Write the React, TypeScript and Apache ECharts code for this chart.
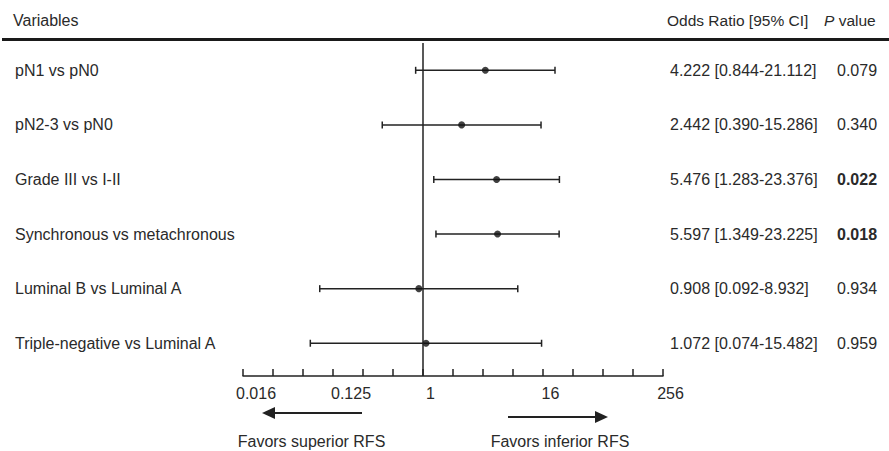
import React, { useEffect, useRef } from "react";
import * as echarts from "echarts";

const categories = [
  "pN1 vs pN0",
  "pN2-3 vs pN0",
  "Grade III vs I-II",
  "Synchronous vs metachronous",
  "Luminal B vs Luminal A",
  "Triple-negative vs Luminal A",
];
const oddsRatio = [4.222, 2.442, 5.476, 5.597, 0.908, 1.072];
const ciLow = [0.844, 0.39, 1.283, 1.349, 0.092, 0.074];
const ciHigh = [21.112, 15.286, 23.376, 23.225, 8.932, 15.482];
const pValues = ["0.079", "0.340", "0.022", "0.018", "0.934", "0.959"];

const xTickValues = [
  0.015625, 0.03125, 0.0625, 0.125, 0.25, 0.5, 1, 2, 4, 8, 16, 32, 64, 128, 256,
];
const xLabelValues = [0.015625, 0.125, 1, 16, 256];
const xLabelText = ["0.016", "0.125", "1", "16", "256"];

const FONT = "'Liberation Sans', Arial, Helvetica, sans-serif";
const INK = "#222";
const TXT = "#2a2a2a";

export default function App() {
  const ref = useRef<HTMLDivElement>(null);
  useEffect(() => {
    if (!ref.current) return;
    const chart = echarts.init(ref.current, undefined, { renderer: "svg" });
    const rowIdx = categories.map((_, i) => i);
    const labelPads = [26, 36, 15, 15, 15];
    const xRich: any = {};
    labelPads.forEach((p, k) => {
      xRich["s" + k] = {
        fontSize: 16,
        fontFamily: FONT,
        color: TXT,
        padding: [0, 0, 0, p],
      };
    });
    const option: any = {
      animation: false,
      backgroundColor: "#fff",
      textStyle: { fontFamily: FONT },
      grid: { left: 243, right: 226, top: 43, bottom: 75, containLabel: false },
      xAxis: {
        type: "log",
        logBase: 2,
        position: "bottom",
        min: xTickValues[0],
        max: xTickValues[xTickValues.length - 1],
        axisLine: { show: true, onZero: false, lineStyle: { color: INK, width: 1.5 } },
        axisTick: {
          show: true,
          inside: true,
          length: 7,
          customValues: xTickValues,
          lineStyle: { color: INK, width: 1.5 },
        },
        axisLabel: {
          customValues: xLabelValues,
          margin: 9,
          fontSize: 16,
          color: TXT,
          fontFamily: FONT,
          formatter: (v: number) => {
            const k = xLabelValues.findIndex(
              (x) => Math.abs(Math.log2(x) - Math.log2(v)) < 1e-6
            );
            if (k < 0) return "";
            return `{s${k}|${xLabelText[k]}}`;
          },
          rich: xRich,
        },
        splitLine: { show: false },
      },
      yAxis: [
        {
          type: "value",
          inverse: true,
          min: -0.5,
          max: 5.6,
          axisLine: { show: false },
          axisTick: { show: false },
          splitLine: { show: false },
          axisLabel: {
            customValues: rowIdx,
            align: "left",
            margin: 228,
            fontSize: 16,
            color: TXT,
            fontFamily: FONT,
            formatter: (v: number) => categories[Math.round(v)] ?? "",
          },
        },
        {
          type: "value",
          position: "right",
          inverse: true,
          min: -0.5,
          max: 5.6,
          axisLine: { show: false },
          axisTick: { show: false },
          splitLine: { show: false },
          axisLabel: {
            customValues: rowIdx,
            align: "left",
            margin: 7,
            fontSize: 16,
            color: TXT,
            fontFamily: FONT,
            formatter: (v: number) => {
              const i = Math.round(v);
              if (i < 0 || i >= categories.length) return "";
              const orTxt = `${oddsRatio[i].toFixed(3)} [${ciLow[i].toFixed(3)}-${ciHigh[i].toFixed(3)}]`;
              const sig = parseFloat(pValues[i]) < 0.05;
              return `{o|${orTxt}}{${sig ? "pb" : "p"}|${pValues[i]}}`;
            },
            rich: {
              o: { width: 167, fontSize: 16, color: TXT, fontFamily: FONT },
              p: { fontSize: 16, color: TXT, fontFamily: FONT },
              pb: { fontSize: 16, color: TXT, fontFamily: FONT, fontWeight: "bold" },
            },
          },
        },
      ],
      series: [
        {
          type: "custom",
          xAxisIndex: 0,
          yAxisIndex: 0,
          encode: { x: [0, 1], y: 2 },
          data: rowIdx.map((i) => [ciLow[i], ciHigh[i], i]),
          renderItem: (params: any, api: any) => {
            const lo = api.coord([api.value(0), api.value(2)]);
            const hi = api.coord([api.value(1), api.value(2)]);
            const y = lo[1];
            const h = 3.5;
            const st = { stroke: INK, lineWidth: 1.5 };
            return {
              type: "group",
              children: [
                { type: "line", shape: { x1: lo[0], y1: y, x2: hi[0], y2: y }, style: st },
                { type: "line", shape: { x1: lo[0], y1: y - h, x2: lo[0], y2: y + h }, style: st },
                { type: "line", shape: { x1: hi[0], y1: y - h, x2: hi[0], y2: y + h }, style: st },
              ],
            };
          },
          z: 2,
        },
        {
          type: "scatter",
          xAxisIndex: 0,
          yAxisIndex: 0,
          symbol: "circle",
          symbolSize: 7,
          itemStyle: { color: "#111" },
          data: rowIdx.map((i) => [oddsRatio[i], i]),
          z: 3,
          markLine: {
            silent: true,
            symbol: "none",
            label: { show: false },
            lineStyle: { color: INK, width: 1.5, type: "solid" },
            data: [{ xAxis: 1 }],
          },
        },
      ],
      graphic: [
        {
          type: "text",
          left: 13,
          top: 12,
          style: { text: "Variables", fontSize: 16, fill: TXT, fontFamily: FONT },
        },
        {
          type: "text",
          left: 667,
          top: 12,
          style: {
            text: "Odds Ratio [95% CI]",
            fontSize: 15.5,
            fill: TXT,
            fontFamily: FONT,
          },
        },
        {
          type: "text",
          left: 824,
          top: 12,
          style: {
            text: "{i|P} value",
            fontSize: 15.5,
            fill: TXT,
            fontFamily: FONT,
            rich: {
              i: { fontStyle: "italic", fontSize: 15.5, fill: TXT, fontFamily: FONT },
            },
          },
        },
        {
          type: "line",
          shape: { x1: 2, y1: 39.5, x2: 889, y2: 39.5 },
          style: { stroke: "#1a1a1a", lineWidth: 3 },
        },
        {
          type: "line",
          shape: { x1: 272, y1: 413, x2: 362, y2: 413 },
          style: { stroke: INK, lineWidth: 2 },
        },
        {
          type: "polygon",
          shape: { points: [[262, 413], [275, 407], [275, 419]] },
          style: { fill: INK },
        },
        {
          type: "line",
          shape: { x1: 508, y1: 417, x2: 598, y2: 417 },
          style: { stroke: INK, lineWidth: 2 },
        },
        {
          type: "polygon",
          shape: { points: [[608, 417], [595, 411], [595, 423]] },
          style: { fill: INK },
        },
        {
          type: "text",
          x: 311.5,
          y: 441,
          style: {
            text: "Favors superior RFS",
            fontSize: 16,
            fill: TXT,
            fontFamily: FONT,
            align: "center",
            verticalAlign: "middle",
          },
        },
        {
          type: "text",
          x: 560,
          y: 441,
          style: {
            text: "Favors inferior RFS",
            fontSize: 16,
            fill: TXT,
            fontFamily: FONT,
            align: "center",
            verticalAlign: "middle",
          },
        },
      ],
    };
    chart.setOption(option);
    return () => chart.dispose();
  }, []);
  return (
    <div
      ref={ref}
      style={{ position: "fixed", left: 0, top: 0, width: 889, height: 451, background: "#fff" }}
    />
  );
}
